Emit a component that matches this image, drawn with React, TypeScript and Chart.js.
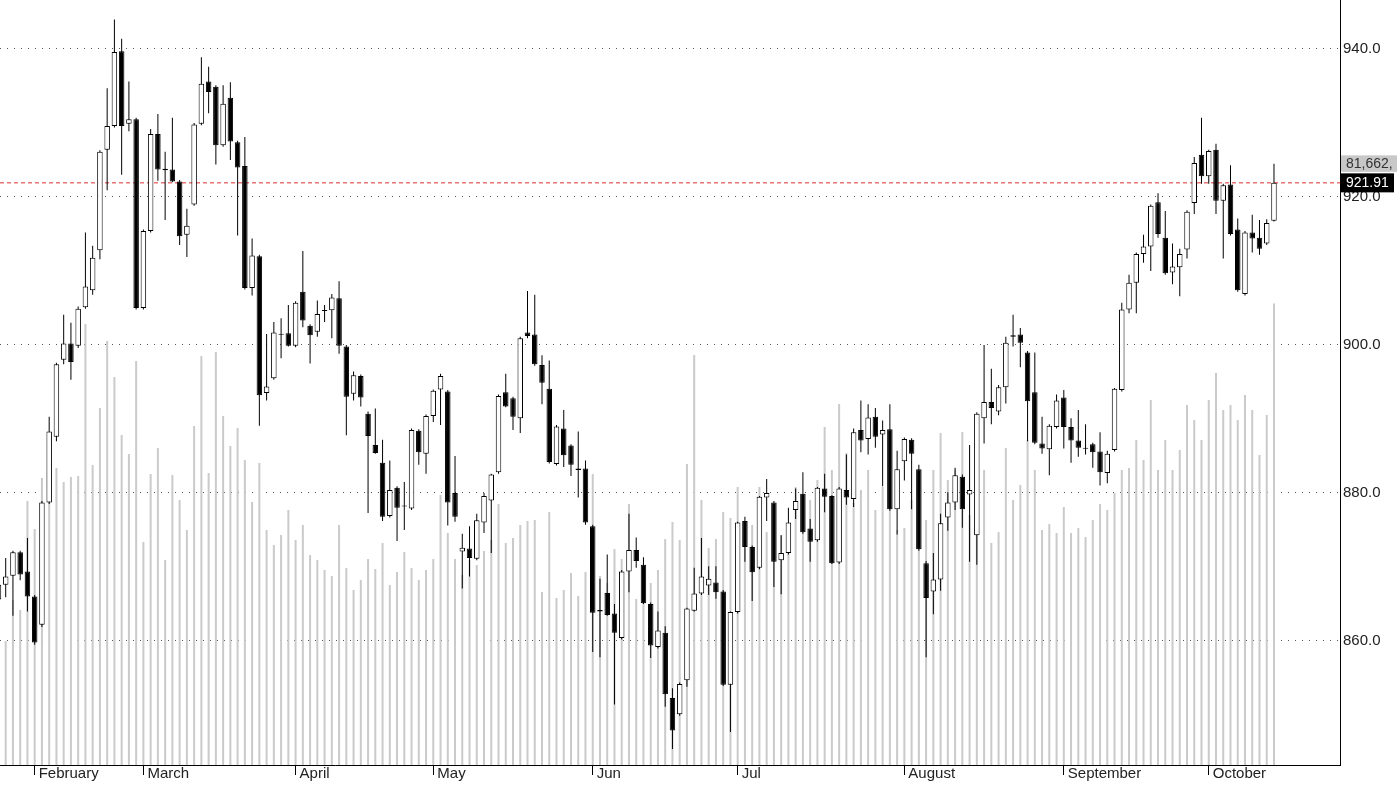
import React, { useEffect, useRef } from 'react';
import { Chart, registerables } from 'chart.js';

Chart.register(...registerables);

// ---------- data ----------
const opens = [865.6, 867.6, 868.8, 872.0, 869.4, 866.0, 862.2, 878.7, 887.6, 898.0,
  900.2, 899.9, 905.1, 907.4, 912.8, 926.4, 929.6, 939.7, 929.9, 930.5,
  905.0, 915.4, 928.5, 923.8, 923.7, 922.1, 914.9, 919.0, 929.9, 935.6,
  934.9, 927.0, 933.4, 927.4, 924.2, 907.7, 912.0, 893.5, 895.5, 901.5,
  901.6, 899.9, 907.2, 902.6, 901.8, 904.6, 904.7, 906.3, 899.8, 893.4,
  895.8, 890.7, 886.5, 884.1, 876.9, 880.7, 878.3, 877.9, 888.4, 885.3,
  890.4, 894.0, 893.7, 880.0, 872.1, 872.5, 871.1, 876.0, 879.0, 882.8,
  893.6, 892.8, 890.1, 901.7, 901.4, 897.3, 894.1, 883.9, 888.7, 886.4,
  883.3, 883.3, 875.5, 864.2, 866.5, 863.7, 860.4, 869.4, 872.3, 870.3,
  865.0, 859.2, 861.1, 852.3, 850.1, 854.7, 864.1, 866.4, 867.5, 867.9,
  866.7, 854.1, 863.9, 876.2, 872.7, 869.9, 879.4, 878.7, 870.9, 871.9,
  877.7, 879.9, 875.2, 873.6, 880.6, 879.6, 870.6, 880.4, 879.2, 888.5,
  887.3, 890.3, 887.9, 888.6, 877.8, 884.3, 887.2, 883.2, 870.5, 866.7,
  868.3, 876.7, 878.7, 882.2, 879.8, 874.3, 890.1, 892.3, 891.0, 894.3,
  901.1, 901.4, 899.0, 893.6, 886.7, 885.9, 888.9, 892.9, 888.9, 887.1,
  886.1, 886.6, 885.6, 882.7, 885.8, 893.9, 904.8, 908.4, 912.3, 913.3,
  919.3, 914.5, 909.8, 910.5, 912.9, 919.2, 925.7, 922.8, 926.4, 919.5,
  921.7, 915.6, 906.9, 915.2, 914.5, 913.7, 916.8];

const highs = [869.0, 871.2, 872.2, 872.2, 873.9, 866.2, 878.9, 890.3, 897.6, 904.1,
  903.0, 905.2, 915.2, 913.4, 926.3, 934.7, 944.0, 941.4, 935.6, 930.7,
  915.6, 929.2, 931.2, 926.1, 930.7, 922.3, 918.4, 930.0, 938.9, 937.6,
  935.1, 935.1, 935.5, 927.6, 928.1, 914.4, 912.2, 901.5, 903.1, 903.6,
  905.4, 905.9, 912.7, 902.8, 906.0, 905.4, 906.9, 908.6, 900.0, 896.4,
  896.0, 891.0, 891.4, 887.2, 884.4, 880.9, 881.5, 888.7, 888.6, 890.6,
  894.0, 896.1, 893.9, 885.0, 874.5, 875.5, 877.2, 880.0, 882.6, 893.3,
  896.1, 893.0, 901.1, 907.3, 906.8, 898.6, 897.9, 889.2, 891.2, 886.6,
  888.3, 884.4, 875.7, 868.4, 871.7, 865.0, 869.6, 877.2, 874.0, 871.3,
  865.2, 864.0, 862.0, 853.6, 854.4, 864.5, 869.9, 873.9, 870.1, 870.1,
  866.9, 864.0, 876.1, 876.8, 872.9, 879.6, 881.9, 878.9, 874.3, 878.0,
  880.6, 882.8, 876.5, 880.8, 882.6, 879.7, 880.8, 885.2, 888.7, 892.5,
  892.0, 891.5, 889.8, 892.0, 885.7, 887.5, 887.4, 883.8, 870.8, 871.9,
  877.2, 880.1, 883.4, 882.5, 886.5, 890.9, 900.0, 896.8, 894.6, 901.1,
  904.1, 902.3, 899.2, 899.0, 890.3, 889.3, 893.3, 893.9, 890.1, 891.2,
  889.3, 886.8, 888.2, 885.7, 894.2, 905.7, 909.5, 912.5, 914.9, 919.0,
  920.5, 918.1, 913.7, 913.0, 918.2, 925.4, 930.7, 926.4, 927.2, 921.8,
  924.3, 917.1, 915.4, 917.6, 916.9, 917.0, 924.5];

const lows = [862.5, 865.9, 863.4, 868.2, 864.0, 859.5, 861.9, 878.5, 887.0, 897.4,
  895.3, 899.6, 904.9, 906.8, 911.6, 920.9, 929.4, 923.0, 928.9, 904.8,
  904.8, 915.2, 922.2, 916.9, 922.0, 913.5, 911.9, 918.8, 929.7, 931.3,
  924.4, 926.8, 925.0, 914.8, 907.5, 906.7, 889.1, 892.5, 895.3, 898.2,
  899.8, 899.7, 902.4, 897.5, 901.1, 903.1, 900.9, 898.8, 887.8, 892.5,
  891.7, 877.3, 885.3, 876.2, 876.7, 873.5, 875.0, 877.7, 883.8, 882.6,
  889.6, 889.2, 875.6, 876.1, 867.1, 868.7, 870.9, 874.6, 871.9, 882.6,
  891.6, 888.5, 888.1, 900.9, 897.2, 892.0, 884.0, 883.7, 883.5, 882.3,
  879.4, 875.7, 858.5, 857.8, 863.4, 851.4, 860.2, 866.6, 869.9, 865.0,
  857.7, 859.0, 851.1, 845.4, 849.9, 853.8, 864.0, 866.2, 866.2, 865.7,
  853.9, 847.7, 863.7, 870.7, 865.4, 869.7, 876.2, 867.3, 866.3, 871.7,
  876.5, 874.5, 870.7, 873.4, 877.4, 870.4, 870.4, 878.4, 878.1, 885.5,
  885.2, 886.1, 880.9, 877.6, 874.4, 881.7, 877.8, 872.2, 857.8, 863.6,
  866.8, 874.9, 877.7, 875.3, 870.7, 870.3, 886.7, 889.3, 890.5, 892.1,
  899.8, 897.0, 887.0, 886.6, 885.3, 882.4, 888.7, 886.0, 884.1, 884.9,
  885.2, 883.4, 881.0, 881.3, 885.6, 893.7, 904.3, 904.3, 911.1, 910.0,
  914.5, 909.5, 908.2, 906.6, 911.7, 917.7, 921.8, 921.8, 917.7, 911.7,
  914.8, 907.2, 906.7, 912.5, 912.2, 913.5, 916.7];

const closes = [867.6, 868.7, 872.0, 869.0, 866.0, 859.8, 878.7, 888.3, 897.4, 900.2,
  897.7, 904.9, 907.9, 911.8, 926.1, 929.6, 939.6, 929.6, 930.5, 905.0,
  915.4, 928.5, 923.7, 923.6, 922.1, 914.7, 916.1, 929.8, 935.3, 934.2,
  927.0, 932.6, 927.5, 924.0, 907.7, 912.1, 893.2, 894.4, 901.7, 901.4,
  899.9, 905.7, 903.3, 901.3, 904.2, 904.7, 906.4, 899.9, 893.0, 895.9,
  892.9, 887.7, 885.4, 876.8, 880.4, 878.0, 878.2, 888.5, 885.5, 890.4,
  893.8, 895.8, 878.7, 876.8, 872.6, 871.2, 876.3, 879.6, 882.5, 893.1,
  891.7, 890.3, 900.9, 901.2, 897.4, 894.9, 884.2, 889.0, 885.1, 883.8,
  883.1, 876.0, 863.8, 864.0, 863.5, 861.1, 869.4, 872.3, 870.8, 865.1,
  859.4, 861.4, 852.8, 847.9, 854.2, 864.4, 866.4, 868.7, 868.4, 866.6,
  854.1, 863.9, 876.0, 872.7, 869.3, 879.5, 880.0, 870.7, 871.9, 876.0,
  878.9, 874.7, 873.4, 880.7, 879.5, 870.5, 880.6, 879.4, 888.2, 887.1,
  890.2, 887.6, 888.5, 877.8, 883.2, 887.3, 885.3, 872.4, 865.8, 868.3,
  875.9, 878.7, 882.4, 877.8, 880.4, 890.7, 892.3, 891.5, 894.3, 900.3,
  901.3, 900.3, 892.4, 886.8, 886.0, 889.1, 892.5, 888.9, 887.1, 886.1,
  886.0, 885.5, 882.8, 885.3, 894.1, 904.8, 908.4, 912.3, 913.3, 918.8,
  915.0, 909.7, 910.6, 912.3, 918.0, 924.6, 922.8, 926.2, 919.5, 921.6,
  915.0, 907.4, 915.2, 914.4, 913.0, 916.5, 921.91];

const volumes = [24780, 21950, 29200, 27440, 46730, 41770, 50800, 52220, 52570, 50090,
  50980, 51150, 78060, 53100, 63190, 75050, 68680, 58410, 55050, 71510,
  39470, 51510, 56110, 36290, 51330, 46910, 41600, 60000, 72390, 51680,
  73100, 61770, 56460, 59650, 53990, 46550, 53450, 41600, 38940, 40710,
  45140, 39830, 42480, 37170, 36290, 34520, 33450, 42480, 34870, 30980,
  32750, 36460, 34690, 39290, 31860, 34160, 37700, 34870, 32750, 34520,
  36460, 47790, 41060, 36460, 33630, 36290, 35400, 37880, 39830, 46200,
  39290, 40180, 42480, 43190, 43370, 30620, 44780, 29560, 30980, 33980,
  29910, 34160, 51510, 33450, 32210, 38230, 36460, 46200, 29380, 29210,
  32210, 34520, 40000, 43010, 39830, 53280, 72570, 46910, 38410, 40000,
  44780, 43720, 49210, 40530, 42480, 49210, 41240, 42830, 40710, 38410,
  49210, 42130, 46910, 50450, 59830, 52220, 63900, 55220, 46370, 48680,
  52220, 45140, 49210, 52220, 41600, 41950, 46910, 48680, 43370, 52220,
  58760, 50450, 52220, 58940, 44250, 50450, 52220, 39290, 41240, 56110,
  46910, 49560, 57530, 52220, 41600, 42660, 41060, 45670, 41060, 41950,
  40360, 43370, 46200, 45140, 48140, 52220, 52570, 57530, 53990, 64610,
  52220, 57530, 52220, 55760, 63720, 61070, 57530, 64610, 69380, 62840,
  63720, 61070, 65490, 62840, 54870, 61950, 81662];

const monthNames = ['February', 'March', 'April', 'May', 'Jun', 'Jul', 'August', 'September', 'October'];
const monthStartIndex = [5, 20, 41, 60, 82, 102, 125, 147, 167];
const priceTicks = [860, 880, 900, 920, 940];
const lastPrice = 921.91;
const lastVolumeLabel = '81,662,';

// ---------- view settings ----------
const X_MIN = 0.214;
const X_MAX = 185.11;
const Y_MIN = 843.24;
const Y_MAX = 946.62;
const VOL_MAX = 135400;
const FONT = "'Liberation Sans', Arial, sans-serif";

const lastValueBoxes = {
  id: 'lastValueBoxes',
  afterDraw(chart: any) {
    const { ctx, chartArea, scales } = chart;
    const y = scales.y.getPixelForValue(lastPrice);
    const left = chartArea.right + 1;
    ctx.save();
    ctx.textBaseline = 'middle';
    ctx.textAlign = 'left';
    ctx.font = `14px ${FONT}`;
    ctx.fillStyle = '#c8c8c8';
    ctx.fillRect(left, y - 27.5, chart.width - left, 16.5);
    ctx.fillStyle = '#333333';
    ctx.fillText(lastVolumeLabel, left + 5, y - 19);
    ctx.fillStyle = '#000000';
    ctx.fillRect(left, y - 9.5, 53, 19);
    ctx.fillStyle = '#ffffff';
    ctx.fillText(lastPrice.toFixed(2), left + 5, y + 0.5);
    ctx.restore();
  },
};

export default function App() {
  const canvasRef = useRef<HTMLCanvasElement | null>(null);

  useEffect(() => {
    if (!canvasRef.current) return;
    const idx = closes.map((_, i) => i);

    const bodies = idx.map((i) => {
      let lo = Math.min(opens[i], closes[i]);
      let hi = Math.max(opens[i], closes[i]);
      if (hi - lo < 0.14) {
        const m = (lo + hi) / 2;
        lo = m - 0.07;
        hi = m + 0.07;
      }
      return { x: i, y: [lo, hi] };
    });
    const bodyColors = idx.map((i) => (closes[i] >= opens[i] ? '#ffffff' : '#000000'));
    const wicks = idx.map((i) => ({ x: i, y: [lows[i], highs[i]] }));
    const vols = idx.map((i) => ({ x: i, y: volumes[i] }));

    const chart = new Chart(canvasRef.current, {
      type: 'bar',
      data: {
        datasets: [
          {
            type: 'bar',
            label: 'body',
            data: bodies as any,
            backgroundColor: bodyColors,
            borderColor: '#000000',
            borderWidth: 1,
            borderSkipped: false,
            grouped: false,
            barThickness: 5.5,
            maxBarThickness: 5.5,
            inflateAmount: 0,
            yAxisID: 'y',
            order: 0,
          } as any,
          {
            type: 'bar',
            label: 'wick',
            data: wicks as any,
            backgroundColor: '#000000',
            borderWidth: 0,
            borderSkipped: false,
            grouped: false,
            barThickness: 1,
            maxBarThickness: 1,
            inflateAmount: 0,
            yAxisID: 'y',
            order: 1,
          } as any,
          {
            type: 'line',
            label: 'last',
            data: [
              { x: X_MIN, y: lastPrice },
              { x: X_MAX, y: lastPrice },
            ],
            borderColor: '#e03030',
            borderWidth: 1,
            borderDash: [4, 3],
            pointRadius: 0,
            yAxisID: 'y',
            order: 2,
          } as any,
          {
            type: 'bar',
            label: 'volume',
            data: vols as any,
            backgroundColor: '#cacaca',
            borderWidth: 0,
            grouped: false,
            barThickness: 2,
            maxBarThickness: 2,
            inflateAmount: 0,
            yAxisID: 'yVol',
            order: 3,
          } as any,
        ],
      },
      options: {
        responsive: false,
        animation: false,
        devicePixelRatio: 1,
        layout: { padding: 0 },
        plugins: {
          legend: { display: false },
          tooltip: { enabled: false },
        },
        scales: {
          x: {
            type: 'linear',
            position: 'bottom',
            min: X_MIN,
            max: X_MAX,
            offset: false,
            grid: {
              display: true,
              offset: false,
              drawOnChartArea: false,
              drawTicks: true,
              tickLength: 10,
              tickColor: '#000000',
              tickWidth: 1,
            },
            border: { display: true, color: '#000000', width: 1 },
            ticks: {
              autoSkip: false,
              maxRotation: 0,
              minRotation: 0,
              align: 'start',
              labelOffset: 4,
              padding: -10,
              color: '#222222',
              font: { family: FONT, size: 15 },
              callback: (value: any) => {
                const k = monthStartIndex.indexOf(Number(value));
                return k >= 0 ? monthNames[k] : '';
              },
            },
            afterBuildTicks: (axis: any) => {
              axis.ticks = monthStartIndex.map((v) => ({ value: v }));
            },
            afterFit: (axis: any) => {
              axis.height = 20;
              axis.paddingLeft = 0;
              axis.paddingRight = 0;
            },
          } as any,
          y: {
            type: 'linear',
            position: 'right',
            min: Y_MIN,
            max: Y_MAX,
            grid: {
              drawOnChartArea: true,
              drawTicks: false,
              color: '#555555',
              lineWidth: 1,
            },
            border: { display: true, color: '#000000', width: 1, dash: [1, 6] },
            ticks: {
              padding: 3,
              color: '#222222',
              font: { family: FONT, size: 15 },
              callback: (v: any) => Number(v).toFixed(1),
            },
            afterBuildTicks: (axis: any) => {
              axis.ticks = priceTicks.map((v) => ({ value: v }));
            },
            afterFit: (axis: any) => {
              axis.width = 57;
              axis.paddingTop = 0;
              axis.paddingBottom = 0;
            },
          } as any,
          yVol: {
            type: 'linear',
            display: false,
            min: 0,
            max: VOL_MAX,
          },
        },
      } as any,
      plugins: [lastValueBoxes],
    });

    return () => chart.destroy();
  }, []);

  return (
    <div style={{ position: 'fixed', left: 0, top: 0, width: 1397, height: 785, background: '#ffffff' }}>
      <canvas ref={canvasRef} width={1397} height={785} style={{ display: 'block' }} />
    </div>
  );
}
